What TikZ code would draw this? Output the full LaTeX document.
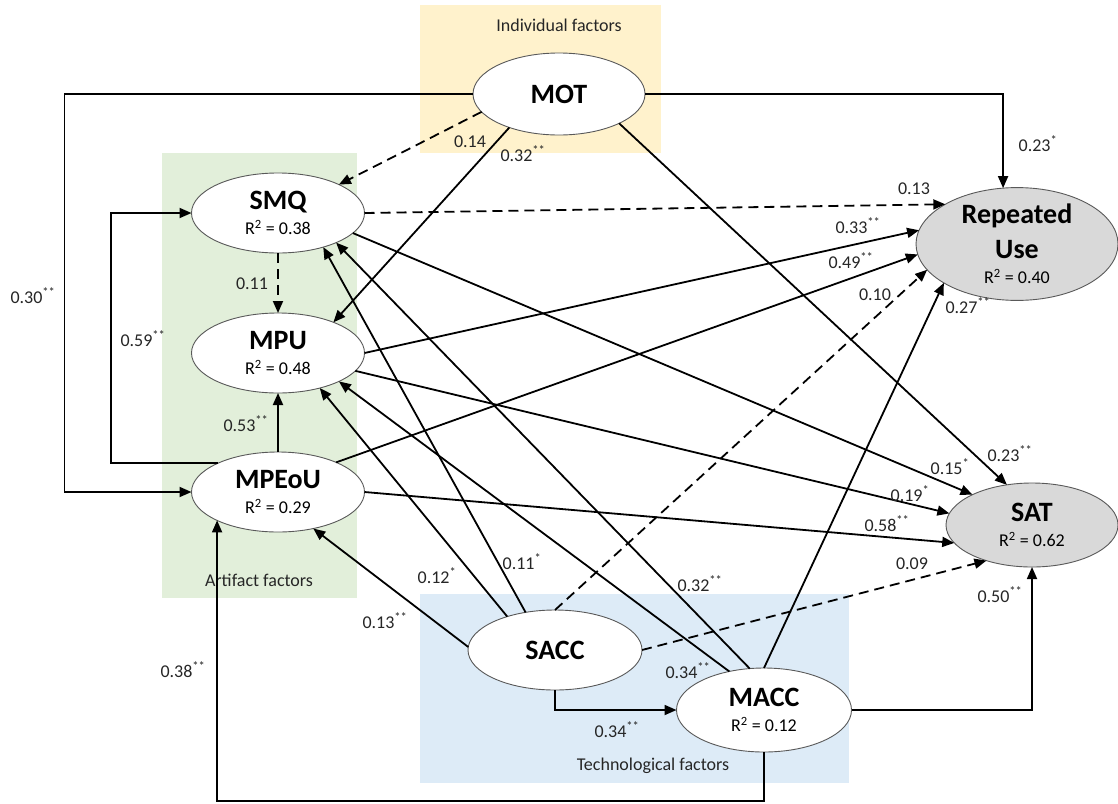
\documentclass[tikz,border=0pt]{standalone}
\usepackage{fontspec}
\setmainfont{Carlito}
\usetikzlibrary{arrows.meta,shapes.geometric}
\definecolor{yel}{HTML}{FFF2CC}
\definecolor{grn}{HTML}{E2EFDA}
\definecolor{blu}{HTML}{DDEBF7}
\definecolor{grayfill}{HTML}{D9D9D9}
\newcommand{\nmfont}{\fontsize{28}{25}\selectfont\bfseries}
\newcommand{\stars}[1]{\textsuperscript{#1}}
\begin{document}
\begin{tikzpicture}[x=1pt,y=-1pt,
  arr/.style={line width=1.8pt, -{Triangle[length=12pt,width=10pt]}},
  dsh/.style={arr, dash pattern=on 10pt off 6pt},
  lv/.style={draw=black!65, line width=0.9pt, ellipse, fill=white, inner sep=0pt, outer sep=0pt, align=center, minimum width=173pt, minimum height=80pt, font=\fontsize{18}{25}\selectfont},
  dv/.style={lv, fill=grayfill},
  lbl/.style={font=\fontsize{18}{20}\selectfont, text=black!85, anchor=base, inner sep=0pt},
  grp/.style={font=\fontsize{18}{20}\selectfont, text=black!85, inner sep=0pt},
]
\useasboundingbox (0,0) rectangle (1118,803);
\fill[white] (0,0) rectangle (1118,803);
% group backgrounds
\fill[yel] (420,5) rectangle (661,153);
\fill[grn] (162,153) rectangle (357,598);
\fill[blu] (420,594) rectangle (849,783);
\node[grp] (g1) at (559,25) {Individual factors};
\node[grp] (g2) at (259,580) {Artifact factors};
\node[grp] (g3) at (653,766) {Technological factors};
% constructs
\node[lv, minimum width=172pt, minimum height=82pt] (mot) at (559,94) {{\nmfont MOT}};
\node[lv] (smq) at (278,213) {{\nmfont SMQ}\\R\textsuperscript{2} = 0.38};
\node[lv] (mpu) at (278,353) {{\nmfont MPU}\\R\textsuperscript{2} = 0.48};
\node[lv] (mpeou) at (278,492) {{\nmfont MPEoU}\\R\textsuperscript{2} = 0.29};
\node[dv, minimum width=202pt, minimum height=110pt] (ru) at (1017,244) {{\nmfont Repeated}\\[10pt]{\nmfont Use}\\R\textsuperscript{2} = 0.40};
\node[dv, minimum width=172pt, minimum height=84pt] (sat) at (1032,525) {{\nmfont SAT}\\R\textsuperscript{2} = 0.62};
\node[lv, minimum width=174pt] (sacc) at (555,650) {{\nmfont SACC}};
\node[lv, minimum width=175pt, minimum height=84pt] (macc) at (764,710) {{\nmfont MACC}\\R\textsuperscript{2} = 0.12};
% paths
\draw[arr] (mot.west) -| ([xshift=-127pt]mpeou.west) -- (mpeou.west);
\draw[arr] (mot.east) -| (ru.104);
\draw[dsh] (mot.193.5) -- (smq.25.5);
\draw[arr] (mot.214) -- (mpu.29.4);
\draw[arr] (mot.334.6) -- (sat.122);
\draw[dsh] (smq.south) -- (mpu.north);
\draw[dsh] (smq.east) -- (ru.151);
\draw[arr] (smq.345.4) -- (sat.153);
\draw[arr] (mpu.east) -- (ru.172);
\draw[arr] (mpu.347) -- (sat.172);
\draw[arr] (mpeou.north) -- (mpu.south);
\draw[arr] (mpeou.154) -| ([xshift=-80.5pt]smq.west) -- (smq.west);
\draw[arr] (mpeou.27) -- (ru.186);
\draw[arr] (mpeou.east) -- (sat.193.7);
\draw[arr] (sacc.178) -- (mpeou.314);
\draw[arr] (sacc.145.7) -- (mpu.320);
\draw[arr] (sacc.128) -- (smq.323);
\draw[dsh] (sacc.north) -- (ru.196);
\draw[dsh] (sacc.east) -- (sat.218);
\draw[arr] (sacc.south) |- (macc.west);
\draw[arr] (macc.south) -- ++(0,49) -| (mpeou.205);
\draw[arr] (macc.east) -| (sat.south);
\draw[arr] (macc.north) -- (ru.208.8);
\draw[arr] (macc.109.7) -- (smq.333.4);
\draw[arr] (macc.132.6) -- (mpu.335);
% coefficients
\node[lbl] (l01) at (33,303) {0.30\stars{**}};
\node[lbl] (l02) at (1038,151) {0.23\stars{*}};
\node[lbl] (l03) at (470,147) {0.14};
\node[lbl] (l04) at (523,161) {0.32\stars{**}};
\node[lbl] (l05) at (1010,461) {0.23\stars{**}};
\node[lbl] (l06) at (252,289) {0.11};
\node[lbl] (l07) at (914,194) {0.13};
\node[lbl] (l08) at (950,474) {0.15\stars{*}};
\node[lbl] (l09) at (858,233) {0.33\stars{**}};
\node[lbl] (l10) at (910,501) {0.19\stars{*}};
\node[lbl] (l11) at (246,431) {0.53\stars{**}};
\node[lbl] (l12) at (143,346) {0.59\stars{**}};
\node[lbl] (l13) at (851,268) {0.49\stars{**}};
\node[lbl] (l14) at (887,531) {0.58\stars{**}};
\node[lbl] (l15) at (385,628) {0.13\stars{**}};
\node[lbl] (l16) at (437,583) {0.12\stars{*}};
\node[lbl] (l17) at (522,569) {0.11\stars{*}};
\node[lbl] (l18) at (875,300) {0.10};
\node[lbl] (l19) at (912,569) {0.09};
\node[lbl] (l20) at (617,737) {0.34\stars{**}};
\node[lbl] (l21) at (183,677) {0.38\stars{**}};
\node[lbl] (l22) at (1000,602) {0.50\stars{**}};
\node[lbl] (l23) at (968,313) {0.27\stars{**}};
\node[lbl] (l24) at (700,591) {0.32\stars{**}};
\node[lbl] (l25) at (688,678) {0.34\stars{**}};
\end{tikzpicture}
\end{document}
